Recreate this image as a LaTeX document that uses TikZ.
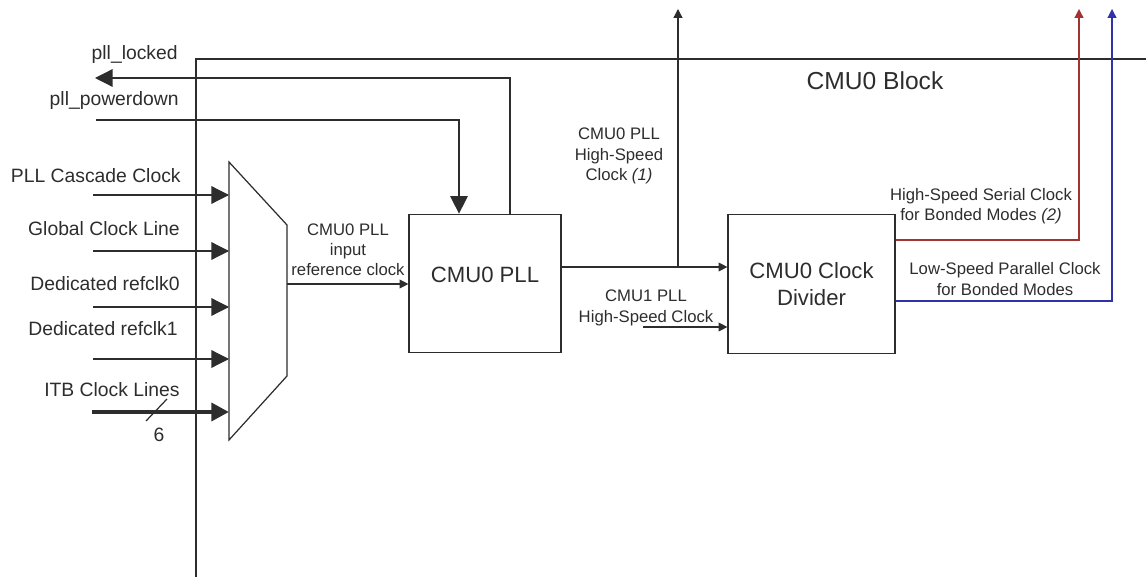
\documentclass[tikz,border=0pt]{standalone}
\usepackage{fontspec}
\setmainfont{Liberation Sans}
\usepackage{xcolor}
\usetikzlibrary{arrows.meta, positioning, calc}

\definecolor{inkgray}{RGB}{45,45,45}
\definecolor{serred}{RGB}{160,52,50}
\definecolor{parblue}{RGB}{48,50,168}

\begin{document}
\begin{tikzpicture}[x=0.02cm, y=-0.02cm,
    ink/.style={draw=inkgray, line width=0.7pt},
    blk/.style={draw=inkgray, line width=0.7pt, minimum height=2.77cm, align=center, text=inkgray, font=\fontsize{12.6}{15.5}\selectfont},
    lbl/.style={inner sep=0pt, text=inkgray, font=\fontsize{11}{13}\selectfont},
    note/.style={inner sep=0pt, align=center, text=inkgray, font=\fontsize{9.5}{11.5}\selectfont},
    arr/.style={-{Triangle[length=5pt, width=5pt]}, draw=inkgray, line width=0.7pt},
    bigarr/.style={-{Triangle[length=10pt, width=10pt]}, draw=inkgray, line width=0.7pt},
]
\useasboundingbox (0,0) rectangle (1146,577);

\draw[ink, line width=0.8pt] (196,577) -- (196,59) -- (1146,59);
\node[inner sep=0pt, text=inkgray, font=\fontsize{14}{16}\selectfont] (blockname) at (875,81) {CMU0 Block};

\node[blk, minimum width=3.04cm, text depth=10pt] (pll) at (485,283.5) {CMU0 PLL};
\node[blk, minimum width=3.34cm] (div) at (811.5,284) {CMU0 Clock\\Divider};

\coordinate (mux-tl) at (229,162);
\coordinate (mux-tr) at (287,225);
\coordinate (mux-br) at (287,376);
\coordinate (mux-bl) at (229,440);
\draw[ink] (mux-tl) -- (mux-tr) -- (mux-br) -- (mux-bl) -- cycle;

\node[lbl, anchor=mid east] (lockedtxt) at (178,55) {pll\_locked};
\node[lbl, anchor=mid east] (pdtxt) at (179,101) {pll\_powerdown};
\node[lbl, anchor=mid east] (cascadetxt) at (181,178) {PLL Cascade Clock};
\node[lbl, anchor=mid east] (globaltxt) at (180,231) {Global Clock Line};
\node[lbl, anchor=mid east] (ref0txt) at (180,286) {Dedicated refclk0};
\node[lbl, anchor=mid east] (ref1txt) at (178,331) {Dedicated refclk1};
\node[lbl, anchor=mid east] (itbtxt) at (180,392) {ITB Clock Lines};
\node[lbl] (itbwidth) at (159,435) {6};

\coordinate (cascade) at (93,195);
\coordinate (global) at (93,251);
\coordinate (ref0) at (93,307);
\coordinate (ref1) at (93,359);
\coordinate (itb) at (92,412);
\draw[bigarr] (cascade) -- (cascade -| mux-tl);
\draw[bigarr] (global) -- (global -| mux-tl);
\draw[bigarr] (ref0) -- (ref0 -| mux-tl);
\draw[bigarr] (ref1) -- (ref1 -| mux-tl);
\draw[bigarr, line width=2.6pt] (itb) -- (itb -| mux-tl);
\draw[ink] (146,421) -- (167,399);

\coordinate (lockup) at (510,78);
\coordinate (lockend) at (95,78);
\draw[bigarr] (pll.north -| lockup) -- (lockup) -- (lockend);
\coordinate (pdstart) at (96,120);
\coordinate (pdturn) at (459,120);
\draw[bigarr] (pdstart) -- (pdturn) -- (pll.north -| pdturn);

\coordinate (muxout) at (287,284);
\draw[arr] (muxout) -- (pll.west |- muxout);
\node[note] (refnote) at (348,250) {CMU0 PLL\\input\\reference clock};

\coordinate (hsbranch) at (678,267);
\coordinate (hstop) at (678,9);
\draw[arr] (pll.east |- hsbranch) -- (div.west |- hsbranch);
\draw[arr] (hsbranch) -- (hstop);
\node[note] (hsnote) at (619,156) {CMU0 PLL\\High-Speed\\Clock \textit{(1)}};

\coordinate (cmu1in) at (643,327);
\draw[arr] (cmu1in) -- (div.west |- cmu1in);
\node[note] (cmu1note) at (646,308) {CMU1 PLL\\High-Speed Clock};

\coordinate (serturn) at (1079,240);
\coordinate (sertop) at (1079,9);
\draw[arr, draw=serred] (div.east |- serturn) -- (serturn) -- (sertop);
\node[note] (sernote) at (981,206) {High-Speed Serial Clock\\for Bonded Modes \textit{(2)}};

\coordinate (parturn) at (1112,301);
\coordinate (partop) at (1112,9);
\draw[arr, draw=parblue] (div.east |- parturn) -- (parturn) -- (partop);
\node[note] (parnote) at (1005,279) {Low-Speed Parallel Clock\\for Bonded Modes};

\end{tikzpicture}
\end{document}
